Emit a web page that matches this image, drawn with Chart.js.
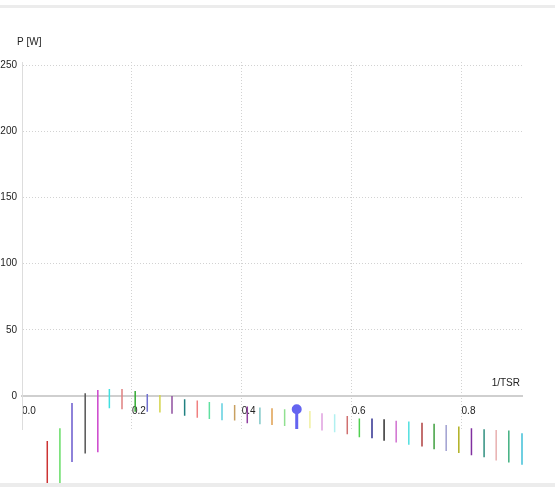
<!DOCTYPE html>
<html>
<head>
<meta charset="utf-8">
<script src="https://cdn.jsdelivr.net/npm/chart.js@4/dist/chart.umd.min.js"></script>
<style>
  html, body { margin: 0; padding: 0; background: #ffffff; }
  #wrap { position: relative; width: 555px; height: 487px; overflow: hidden; }
  #topband { position: absolute; left: 0; top: 5px; width: 555px; height: 3px; background: #ececec; }
  #bottomband { position: absolute; left: 0; top: 483px; width: 555px; height: 4px; background: #ececec; }
  canvas { position: absolute; left: 0; top: 0; }
</style>
</head>
<body>
<div id="wrap">
  <canvas id="chart" width="555" height="487"></canvas>
  <div id="topband"></div>
  <div id="bottomband"></div>
</div>
<script>
// Inverse tip speed ratio for each sweep step
const invTsr = [0.046, 0.069, 0.091, 0.115, 0.138, 0.159, 0.182, 0.206, 0.228, 0.251,
                0.273, 0.296, 0.319, 0.341, 0.364, 0.387, 0.410, 0.433, 0.455, 0.478,
                0.500, 0.524, 0.546, 0.569, 0.592, 0.614, 0.637, 0.659, 0.681, 0.704,
                0.728, 0.750, 0.772, 0.795, 0.818, 0.841, 0.863, 0.886, 0.910];
// Upper and lower power bound at each step [W]
const powerMax = [-34, -24.4, -5.3, 2, 4.5, 5.3, 5.3, 3.8, 1.5, 0.8,
                  0, -2.5, -3.5, -4.5, -5.5, -6.8, -8, -8.8, -9.3, -10,
                  -10, -11.3, -13, -13.8, -15.1, -17.1, -17.1, -17.7, -18.7, -19.4,
                  -20.2, -21.1, -21.9, -23.2, -24.4, -25.2, -25.7, -26.2, -28.2];
const powerMin = [-75, -75, -50, -43.6, -42.5, -9.3, -10, -11.9, -11.9, -12.6,
                  -13.4, -15, -16.4, -17.4, -18.4, -18.6, -20.6, -21.4, -21.9, -22.7,
                  -25, -24.4, -26.2, -27.5, -28.9, -31.2, -32, -33.8, -35.3, -36.9,
                  -38.2, -40.3, -41.6, -43.1, -44.8, -46.3, -48.8, -50.3, -52];
const stepColors = ['#cc3333', '#66dd66', '#6a5acd', '#555555', '#cc44cc', '#40e0e0', '#e08080', '#33aa33', '#7070d0', '#d4d44a',
                    '#9050a0', '#208080', '#f08080', '#60e0a0', '#60d0e0', '#c8a060', '#9040a0', '#80c8c8', '#e0a050', '#90e090',
                    '#6464f0', '#f0f0a0', '#e0a0e0', '#b0f0f0', '#d07070', '#50d050', '#303090', '#303030', '#d070d0', '#50e0e0',
                    '#b04040', '#40a040', '#a0a0d0', '#b0b020', '#8030a0', '#309080', '#e8b0b0', '#40b080', '#40c0d8'];
const selectedStep = 20;
const yTicks = [0, 50, 100, 150, 200, 250];
const xTicks = [0, 0.2, 0.4, 0.6, 0.8];

const FONT = "'Liberation Sans Narrow', 'Liberation Sans', Arial, sans-serif";
const GRID = '#d2d2d2';
const TEXT = '#222222';

const datasets = invTsr.map((x, i) => {
  const sel = i === selectedStep;
  return {
    data: [{ x: x, y: powerMax[i] }, { x: x, y: powerMin[i] }],
    borderColor: stepColors[i],
    backgroundColor: stepColors[i],
    borderWidth: sel ? 3 : 1.5,
    showLine: true,
    pointRadius: sel ? [3.5, 0] : 0,
    pointHoverRadius: 0,
    clip: false
  };
});

const axisTitles = {
  id: 'axisTitles',
  afterDraw(chart) {
    const ctx = chart.ctx;
    ctx.save();
    ctx.fillStyle = TEXT;
    ctx.font = '10px ' + FONT;
    ctx.textBaseline = 'middle';
    ctx.textAlign = 'left';
    ctx.fillText('P [W]', 17, 42);
    ctx.textAlign = 'right';
    ctx.fillText('1/TSR', 520, 383);
    ctx.restore();
  }
};

new Chart(document.getElementById('chart'), {
  type: 'scatter',
  data: { datasets },
  plugins: [axisTitles],
  options: {
    responsive: false,
    animation: false,
    events: [],
    layout: { padding: { left: 0, right: 33, top: 62, bottom: 58 } },
    plugins: { legend: { display: false }, tooltip: { enabled: false } },
    scales: {
      x: {
        type: 'linear',
        position: { y: 0 },
        min: 0,
        max: 0.91,
        afterBuildTicks: s => { s.ticks = xTicks.map(v => ({ value: v })); },
        // border.dash styles the grid lines; the axis line itself stays solid
        border: { display: true, color: '#cfcfcf', width: 2, dash: [1, 2] },
        grid: {
          drawTicks: false,
          color: c => (c.tick && c.tick.value === 0) ? 'rgba(0,0,0,0)' : GRID,
          lineWidth: 1
        },
        ticks: {
          align: 'start',
          padding: 9,
          color: TEXT,
          font: { size: 10, family: FONT },
          maxRotation: 0,
          callback: v => Number(v).toFixed(1)
        }
      },
      y: {
        type: 'linear',
        position: 'left',
        min: -25,
        max: 252.5,
        afterFit: s => { s.width = 22; },
        afterBuildTicks: s => { s.ticks = yTicks.map(v => ({ value: v })); },
        border: { display: true, color: '#dddddd', width: 1, dash: [1, 2] },
        grid: {
          drawTicks: false,
          color: c => (c.tick && c.tick.value === 0) ? 'rgba(0,0,0,0)' : GRID,
          lineWidth: 1
        },
        ticks: {
          padding: 5,
          color: TEXT,
          font: { size: 10, family: FONT },
          callback: v => String(v)
        }
      }
    }
  }
});
</script>
</body>
</html>
